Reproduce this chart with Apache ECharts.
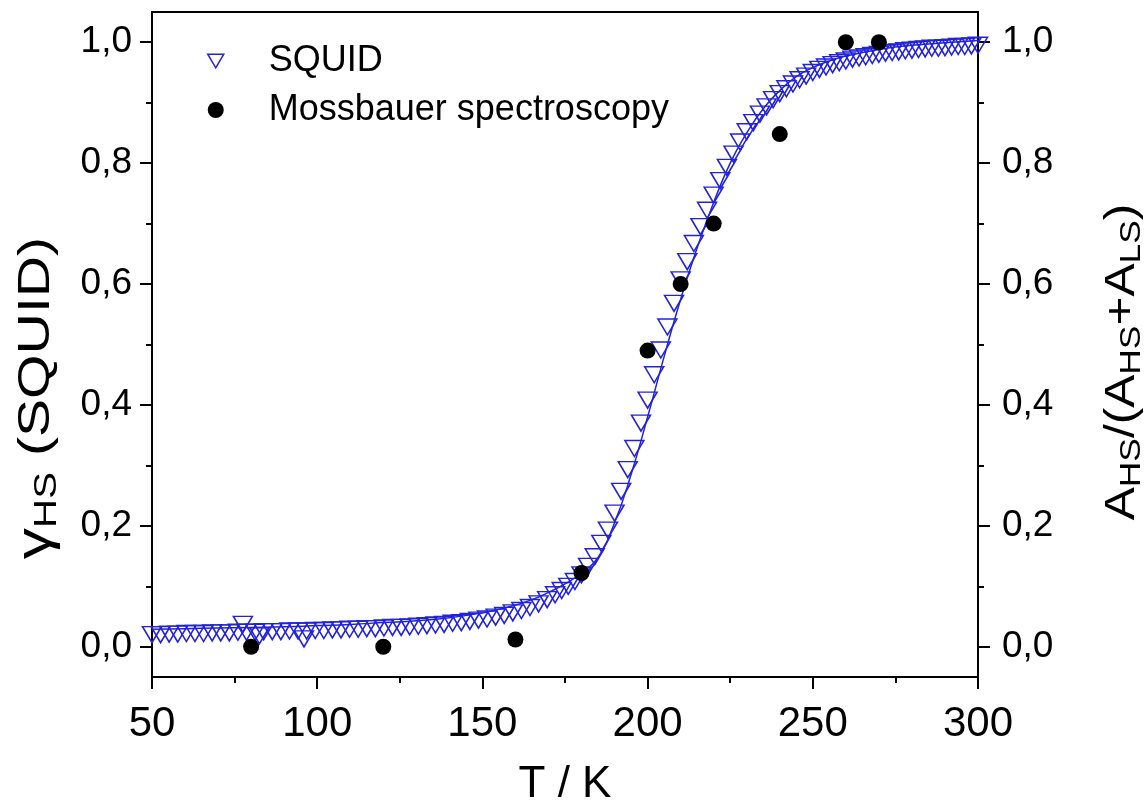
<!DOCTYPE html>
<html>
<head>
<meta charset="utf-8">
<script src="https://cdn.jsdelivr.net/npm/echarts@6/dist/echarts.min.js"></script>
<style>
  html, body { margin: 0; padding: 0; background: #fff; }
  #chart { width: 1148px; height: 809px; }
</style>
</head>
<body>
<div id="chart"></div>
<script>
// SQUID data (T / K, gamma_HS)
const squidT = [50, 52.6, 55.2, 57.8, 60.4, 63, 65.6, 68.2, 70.8, 73.4, 76, 77.5, 78.6, 81.2, 82.5, 83.8, 86.4, 89, 91.6, 94.2, 96, 96.8, 99.4,
  102, 104.6, 107.2, 109.8, 112.4, 115, 117.6, 120.2, 122.8, 125.4, 128, 130.6, 133.2, 135.8, 138.4, 141, 143.6, 146.2, 148.8,
  151.4, 154, 156.6, 159.2, 161.8, 164.4, 167, 169.6, 172, 174, 176, 178, 180, 182, 184, 186, 188, 190, 192, 194, 196, 198,
  200, 202, 204, 206, 208, 210, 212, 214, 216, 218, 220, 222, 224, 226, 228, 230, 232, 234, 236, 238, 240, 242, 244, 246, 248,
  250, 252, 254, 256, 258, 260, 262, 264, 266, 268, 270, 272, 274, 276, 278, 280, 282, 284, 286, 288, 290, 292, 294, 296, 298, 300]
const squidY = [0.020, 0.020, 0.021, 0.021, 0.022, 0.022, 0.022, 0.023, 0.023, 0.023, 0.024, 0.037, 0.024, 0.024, 0.018, 0.025, 0.025, 0.025, 0.026, 0.026, 0.013, 0.026, 0.027,
  0.027, 0.028, 0.028, 0.029, 0.029, 0.030, 0.030, 0.031, 0.032, 0.032, 0.033, 0.034, 0.035, 0.036, 0.037, 0.039, 0.040, 0.042, 0.044,
  0.046, 0.049, 0.052, 0.056, 0.060, 0.065, 0.071, 0.078, 0.086, 0.093, 0.100, 0.108, 0.119, 0.133, 0.149, 0.171, 0.193, 0.221, 0.257, 0.293, 0.328, 0.370,
  0.408, 0.450, 0.491, 0.529, 0.568, 0.607, 0.637, 0.667, 0.695, 0.722, 0.747, 0.771, 0.793, 0.815, 0.835, 0.852, 0.867, 0.881, 0.893, 0.905, 0.915, 0.923, 0.931, 0.938, 0.944,
  0.950, 0.955, 0.959, 0.963, 0.966, 0.969, 0.972, 0.974, 0.976, 0.978, 0.980, 0.982, 0.983, 0.984, 0.986, 0.987, 0.988, 0.989, 0.990, 0.990, 0.991, 0.992, 0.993, 0.993, 0.994, 0.995]

// fit curve
const fitT = [50, 60, 70, 80, 90, 100, 110, 120, 130, 140, 150, 155, 160, 165, 170, 175, 180, 185, 190, 195, 200, 205, 210, 215, 220, 225, 230, 235, 240, 245, 250, 255, 260, 270, 280, 290, 300]
const fitY = [0.029, 0.030, 0.031, 0.032, 0.033, 0.035, 0.037, 0.040, 0.043, 0.048, 0.056, 0.062, 0.069, 0.078, 0.090, 0.104, 0.122, 0.148, 0.205, 0.285, 0.380, 0.480, 0.575, 0.660, 0.735, 0.800, 0.850, 0.890, 0.920, 0.943, 0.958, 0.969, 0.977, 0.988, 0.995, 0.999, 1.003]

// Mossbauer spectroscopy points
const mossT = [80, 120, 160, 180, 200, 210, 220, 240, 260, 270]
const mossY = [0.0, 0.0, 0.012, 0.122, 0.49, 0.60, 0.70, 0.848, 1.0, 1.0]

const yMajor = [0, 0.2, 0.4, 0.6, 0.8, 1.0]
const yMinor = [0.1, 0.3, 0.5, 0.7, 0.9]

const blue = '#2222dd'
const sans = "'Liberation Sans', Arial, sans-serif"

const chart = echarts.init(document.getElementById('chart'))

const fmt = (v) => v.toFixed(1).replace('.', ',')

const yAxisBase = (pos, withLabels, ticks, tickLen) => ({
  type: 'value',
  position: pos,
  min: -0.05,
  max: 1.05,
  axisLine: { show: withLabels, onZero: false, lineStyle: { color: '#000', width: 2 } },
  axisTick: { show: true, customValues: ticks, length: tickLen, lineStyle: { color: '#000', width: 2 } },
  axisLabel: withLabels ? {
    show: true,
    customValues: ticks,
    formatter: fmt,
    fontFamily: sans,
    fontSize: 37,
    color: '#000',
    margin: pos === 'left' ? 20 : 24
  } : { show: false },
  splitLine: { show: false }
})

// rich styles for the rotated axis titles (subscripts)
const leftRich = {
  m: { fontFamily: sans, fontSize: 44, color: '#000', lineHeight: 52, verticalAlign: 'middle' },
  g: { fontFamily: sans, fontSize: 48, color: '#000', lineHeight: 52, verticalAlign: 'middle' },
  s: { fontFamily: sans, fontSize: 31, color: '#000', lineHeight: 31, verticalAlign: 'bottom' }
}
const rightRich = {
  m: { fontFamily: sans, fontSize: 42, color: '#000', lineHeight: 50, verticalAlign: 'middle' },
  s: { fontFamily: sans, fontSize: 30, color: '#000', lineHeight: 30, verticalAlign: 'bottom' }
}

const option = {
  backgroundColor: '#fff',
  animation: false,
  grid: {
    left: 152,
    right: 170,
    top: 12,
    bottom: 132,
    outerBoundsMode: 'none',
    show: true,
    borderColor: '#000',
    borderWidth: 2
  },
  legend: {
    orient: 'vertical',
    left: 207,
    top: 40,
    padding: 0,
    itemWidth: 16,
    itemHeight: 16,
    itemGap: 7,
    textStyle: { fontFamily: sans, fontSize: 36, color: '#000', lineHeight: 42, padding: [0, 0, 0, 40] },
    data: [
      { name: 'SQUID', icon: 'path://M0,0L20,0L10,17Z', itemStyle: { color: 'transparent', borderColor: blue, borderWidth: 1.5, opacity: 1 } },
      { name: 'Mossbauer spectroscopy', icon: 'circle', itemStyle: { color: '#000', opacity: 1 } }
    ]
  },
  xAxis: {
    type: 'value',
    min: 50,
    max: 300,
    interval: 50,
    name: 'T / K',
    nameLocation: 'middle',
    nameGap: 86,
    nameTextStyle: { fontFamily: sans, fontSize: 44, color: '#000' },
    axisLine: { onZero: false, lineStyle: { color: '#000', width: 2 } },
    axisTick: { length: 12, lineStyle: { color: '#000', width: 2 } },
    minorTick: { show: true, splitNumber: 2, length: 6, lineStyle: { color: '#000', width: 2 } },
    axisLabel: { fontFamily: sans, fontSize: 42, color: '#000', margin: 26 },
    splitLine: { show: false }
  },
  yAxis: [
    yAxisBase('left', true, yMajor, 12),
    yAxisBase('left', false, yMinor, 6),
    yAxisBase('right', true, yMajor, 12),
    yAxisBase('right', false, yMinor, 6)
  ],
  graphic: [
    {
      type: 'text',
      x: 37,
      y: 398,
      rotation: Math.PI / 2,
      scaleX: 1.3,
      style: {
        text: '{g|γ}{s|HS}{m| (SQUID)}',
        rich: leftRich,
        align: 'center',
        verticalAlign: 'middle'
      }
    },
    {
      type: 'text',
      x: 1122,
      y: 362,
      rotation: Math.PI / 2,
      scaleX: 1.18,
      style: {
        text: '{m|A}{s|HS}{m|/(A}{s|HS}{m|+A}{s|LS}{m|)}',
        rich: rightRich,
        align: 'center',
        verticalAlign: 'middle'
      }
    }
  ],
  series: [
    {
      name: 'SQUID',
      type: 'scatter',
      yAxisIndex: 0,
      symbol: 'triangle',
      symbolRotate: 180,
      symbolSize: [19, 16],
      itemStyle: { color: 'transparent', borderColor: blue, borderWidth: 1.5, opacity: 1 },
      data: squidT.map((t, i) => [t, squidY[i]]),
      z: 2
    },
    {
      name: 'fit',
      type: 'line',
      yAxisIndex: 0,
      smooth: true,
      showSymbol: false,
      lineStyle: { color: blue, width: 1.5 },
      data: fitT.map((t, i) => [t, fitY[i]]),
      z: 3
    },
    {
      name: 'Mossbauer spectroscopy',
      type: 'scatter',
      yAxisIndex: 0,
      symbol: 'circle',
      symbolSize: 16,
      itemStyle: { color: '#000', opacity: 1 },
      data: mossT.map((t, i) => [t, mossY[i]]),
      z: 4
    }
  ]
}

chart.setOption(option)
</script>
</body>
</html>
